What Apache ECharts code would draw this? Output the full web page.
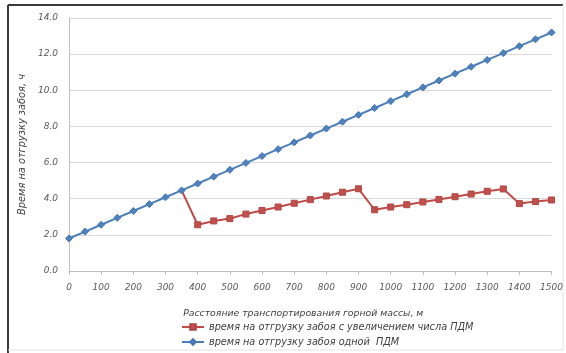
<!DOCTYPE html>
<html>
<head>
<meta charset="utf-8">
<script src="https://cdn.jsdelivr.net/npm/echarts@6/dist/echarts.min.js"></script>
<style>
  html, body { margin: 0; padding: 0; background: #fff; }
  #chart { width: 566px; height: 353px; }
</style>
</head>
<body>
<div id="chart"></div>
<script>
// Transport distance, m
const distances = [0, 50, 100, 150, 200, 250, 300, 350, 400, 450, 500, 550, 600, 650, 700, 750,
  800, 850, 900, 950, 1000, 1050, 1100, 1150, 1200, 1250, 1300, 1350, 1400, 1450, 1500];

// Loading time with an increased number of LHD machines, h
// (identical to the single-machine curve up to 350 m, so it starts there)
const timeMultiLHD = [null, null, null, null, null, null, null, 4.46, 2.56, 2.77, 2.90, 3.15, 3.35, 3.54, 3.75, 3.95,
  4.15, 4.36, 4.55, 3.39, 3.54, 3.67, 3.82, 3.96, 4.11, 4.26, 4.41, 4.54, 3.73, 3.84, 3.93];

// Loading time with a single LHD machine, h
const timeSingleLHD = [1.80, 2.18, 2.56, 2.94, 3.32, 3.70, 4.08, 4.46, 4.84, 5.22, 5.60, 5.98, 6.36, 6.74, 7.12, 7.50,
  7.88, 8.26, 8.64, 9.02, 9.40, 9.78, 10.16, 10.54, 10.92, 11.30, 11.68, 12.06, 12.44, 12.82, 13.20];

const yTicks = { min: 0, max: 14, step: 2 };

const seriesNames = [
  'время на отгрузку забоя с увеличением числа ПДМ',
  'время на отгрузку забоя одной  ПДМ'
];

const font = 'DejaVu Sans';
const chart = echarts.init(document.getElementById('chart'), null, { renderer: 'canvas' });

// the branch point is shared with the single-machine curve; its marker is drawn by that series
const multiData = timeMultiLHD.map((v, i) =>
  (i > 0 && timeMultiLHD[i - 1] === null && v !== null) ? { value: v, symbol: 'none' } : v);

chart.setOption({
  backgroundColor: '#ffffff',
  animation: false,
  textStyle: { fontFamily: font, fontStyle: 'italic' },
  graphic: [
    { type: 'line', shape: { x1: 8, y1: 5, x2: 8, y2: 353 }, style: { stroke: '#3a3a3a', lineWidth: 2 } },
    { type: 'line', shape: { x1: 8, y1: 5, x2: 563, y2: 5 }, style: { stroke: '#3a3a3a', lineWidth: 2 } },
    { type: 'line', shape: { x1: 563, y1: 5, x2: 563, y2: 350 }, style: { stroke: '#e4e4e4', lineWidth: 1 } },
    { type: 'line', shape: { x1: 8, y1: 350, x2: 563, y2: 350 }, style: { stroke: '#e4e4e4', lineWidth: 1 } }
  ],
  grid: { left: 69, right: 11, top: 18, bottom: 82, containLabel: false },
  legend: {
    orient: 'vertical',
    left: 181,
    top: 322,
    padding: 0,
    height: 31,
    itemGap: 5,
    itemWidth: 22,
    itemHeight: 7,
    textStyle: { fontFamily: font, fontStyle: 'italic', fontSize: 9.7, color: '#404040' },
    data: seriesNames
  },
  xAxis: {
    type: 'category',
    data: distances,
    boundaryGap: false,
    name: 'Расстояние транспортирования горной массы, м',
    nameLocation: 'middle',
    nameGap: 38,
    nameTextStyle: { fontFamily: font, fontStyle: 'italic', fontSize: 9.3, color: '#404040', padding: [0, 0, 0, -14] },
    axisLine: { lineStyle: { color: '#bfbfbf' } },
    axisTick: { interval: 1, length: 4, lineStyle: { color: '#bfbfbf' } },
    axisLabel: { interval: 1, fontFamily: font, fontStyle: 'italic', fontSize: 9, color: '#595959', margin: 12 },
    splitLine: { show: false }
  },
  yAxis: {
    type: 'value',
    min: yTicks.min,
    max: yTicks.max,
    interval: yTicks.step,
    name: 'Время на отгрузку забоя, ч',
    nameLocation: 'middle',
    nameGap: 38,
    nameRotate: 90,
    nameTextStyle: { fontFamily: font, fontStyle: 'italic', fontSize: 9.8, color: '#404040' },
    axisLine: { show: true, lineStyle: { color: '#bfbfbf' } },
    axisTick: { show: false },
    axisLabel: {
      fontFamily: font, fontStyle: 'italic', fontSize: 9, color: '#595959', margin: 11,
      formatter: v => v.toFixed(1)
    },
    splitLine: { lineStyle: { color: '#d9d9d9' } }
  },
  series: [
    {
      name: seriesNames[0],
      type: 'line',
      data: multiData,
      z: 2,
      symbol: 'rect',
      symbolSize: 6,
      lineStyle: { color: '#be4b48', width: 2 },
      itemStyle: { color: '#c0504d', borderColor: '#b04744', borderWidth: 1 }
    },
    {
      name: seriesNames[1],
      type: 'line',
      data: timeSingleLHD,
      z: 3,
      symbol: 'diamond',
      symbolSize: 7,
      lineStyle: { color: '#4a7ebb', width: 2 },
      itemStyle: { color: '#4f81bd', borderColor: '#4575b0', borderWidth: 1 }
    }
  ]
});
</script>
</body>
</html>
